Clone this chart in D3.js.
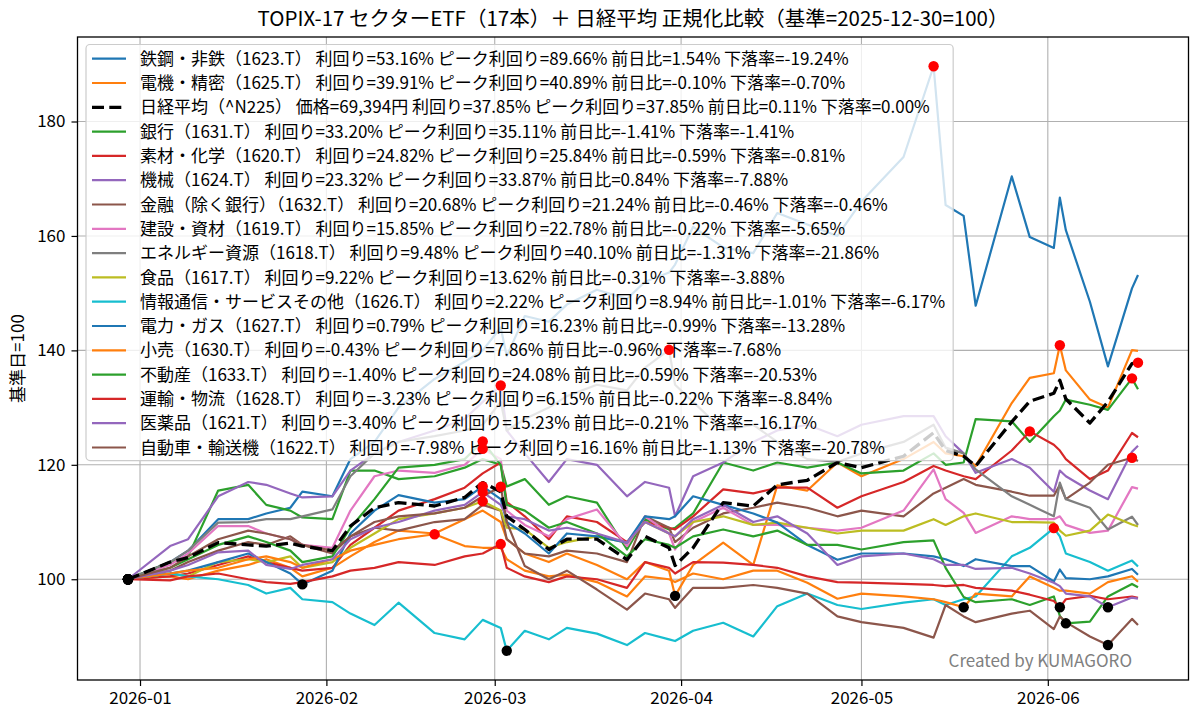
<!DOCTYPE html>
<html>
<head>
<meta charset="utf-8">
<script src="https://cdn.jsdelivr.net/npm/d3@7"></script>
<style>
  body { margin: 0; background: #fff; }
  #chart text { font-family: "Noto Sans CJK JP", "Noto Sans", sans-serif; }
</style>
</head>
<body>
<svg id="chart" width="1200" height="720"></svg>
<script>
// 営業日（抜粋）
const dates = ["2025-12-30","2026-01-06","2026-01-09","2026-01-14","2026-01-19","2026-01-22","2026-01-26","2026-01-28",
  "2026-02-02","2026-02-05","2026-02-09","2026-02-13","2026-02-19","2026-02-24","2026-02-27","2026-03-02","2026-03-03",
  "2026-03-06","2026-03-10","2026-03-13","2026-03-18","2026-03-23","2026-03-26","2026-03-30","2026-03-31","2026-04-03",
  "2026-04-08","2026-04-13","2026-04-17","2026-04-22","2026-04-27","2026-05-01","2026-05-08","2026-05-13","2026-05-15",
  "2026-05-18","2026-05-20","2026-05-26","2026-05-29","2026-06-02","2026-06-03","2026-06-04","2026-06-08","2026-06-11",
  "2026-06-15","2026-06-16"];

// 基準日=100 の値
const steel = [100,103,105,110.5,110.5,111.5,112.5,115.3,114.5,121,124,130,135,138,140,144,139,146,145,148,150.6,149,152,153.6,155,161.6,158,157,164,162,160,166,173.8,189.66,165.4,163.5,147.8,170.4,159.8,157.9,166.7,161,148.5,137.2,150.84,153.16];
const electric = [100,100.5,100,101.5,102.5,103.5,102,100.5,102,104,106.5,108.5,108,110.5,112,110,107,104.5,103,104.5,102.5,100,103,101.5,97.1,102.5,106.4,102.5,116.4,115.5,120.4,118,121,124,122,121.5,119.8,130.8,135.2,136,140.89,136.5,131.4,130,140.05,139.91];
const nikkei = [100,103,103.8,106.4,106,105.8,106.3,105.8,105,109.3,112.5,113.4,112.8,114.3,116.9,115.3,111,108.7,105.2,107,107,103.4,107.5,105.5,102.4,105.5,113.4,112.8,116.5,117.3,120.4,119.5,121.5,125.6,122.5,121.5,119.8,127.5,131.1,132.5,134.8,131.5,127.3,131,137.7,137.85];
const banks = [100,103,104,115.5,116.5,113,112,110.8,110.5,119,119,117.5,118,119.5,121,120,116.2,117.5,113,114.5,113.4,105.2,110.5,108.7,109,111.5,120.4,119,120.4,119.5,120.4,118.5,119,122,120,120.4,128,127.6,124,128.5,129.5,131.4,130.5,129.6,135.11,133.2];
const materials = [100,100.5,101,102.5,104,103,102,101.5,102,106,109,112,114,116,118.5,120.4,113.5,111,107,111,110,106.5,110,109,108.7,111,115.7,115,116,116,112.5,114.5,117,119.8,119,118,117.5,122.5,125.84,123.5,122.5,121,117.5,119,125.56,124.82];
const machinery = [100,105.8,107,114.5,117,116.5,115,114.3,114.5,119,122,124,126,128,131,133.87,126,122,117,121,120,114.5,117,116,111,118,120.4,124,126,127,125,127,128.5,128.5,125,122,118.6,121,119.5,115.3,119,118,115.5,114,122.29,123.32];
const finance = [100,101.5,103,105,106.5,106,107.5,106,104.5,107.5,109,108.5,110,110.5,113,112,107,104.5,104,105,104.5,103,111,109,106.5,109,111.5,112.5,113.4,112.5,111,112,111,115,116,117.5,116.5,115.3,114.6,114.6,116.5,114,116.9,120,121.24,120.68];
const construction = [100,102.5,104.5,109.3,109.3,108,107,106,105.5,112,118,119,118.6,120,122.78,121,112,109.5,107.5,110.5,112.2,105.8,111,108,105.2,110,112.5,109.5,109.5,109,108.5,109,112,119.2,114,111.6,108.1,111,110.5,110.5,111,109.5,108.1,108.5,116.1,115.85];
const energy = [100,103,105,109.9,110,110.5,110.5,111,112.2,118,122,124,125,126,127,131,126,128,130,132,134,133,137,140.1,134,131,126,127,124,121,120.5,122,124,127,123,122,119.2,114.5,113,111,116.9,114,112.5,108.7,110.93,109.48];
const foods = [100,101,100.5,103,103.5,103,104,102,103,105.5,108,110.5,111.5,112.5,113.62,112,109,108.7,105.5,106.5,107.5,106.4,110,108,107.5,110,111,109.5,109.9,109,108,108.5,108.5,110.5,109.5,111,111.5,110,110,109.9,108.5,107.6,108.5,111.3,109.56,109.22];
const infocom = [100,101,100.5,100,99,97.5,98.5,96.5,96,94,92,95.9,90.6,89.5,92.9,91.5,87.5,91,89.5,91.5,90.5,88.5,90.6,89.5,89.2,91,92.4,90,95.3,97.5,95.5,94.8,95.9,96.5,95.5,96.5,97,104,105.5,108.94,107.5,104.5,103,101.5,103.26,102.22];
const utilities = [100,101,101.5,103,104.5,103,101,99.1,101.5,108,112,114.7,113.4,114,116.23,114,110,108,104.5,108,107.5,106.4,111,110.5,111,114.5,113,111.5,109.9,106,103.4,104.5,104.5,104,103.5,102.3,103.5,102.3,102.3,99.6,101.7,100.2,100,100.5,101.8,100.79];
const retail = [100,101,101.5,102,103.5,104,103,102,103.5,105,106,107,107.86,105.8,105.5,105.5,103.5,101.5,100.5,100.8,99.5,97,100.5,100,99.5,101,100,101.5,101.5,99.4,96.6,97.5,97,96.5,96,95.1,97.5,97,100.5,98.5,98,98,97.5,99.5,100.53,99.57];
const realestate = [100,102,103.5,106,107.5,106.5,105,103,104,109,114,119.5,120,121,124.08,120,113,112,109,110,108,104,107,106,105.5,107.5,108.7,107.5,108.5,106,106,105.2,106.5,106.8,102,96.9,96,96.5,95.5,97,93.6,92.3,92.6,97,99.18,98.6];
const transport = [100,99.8,100.5,101,100,99.5,99.2,99.5,100.5,101.5,102,103,102.5,104,104.5,106.15,102,100.5,99.5,100.5,100,98.5,103,102,101,103,102.9,102.5,102,100.5,99.5,99.4,99.2,99,98.8,99,98.5,98,97.3,96.2,95.1,96.5,97.1,96.5,96.98,96.77];
const pharma = [100,101.5,102.5,104.7,105,102.5,101.8,102.5,103.5,107,109,110,112,113,115.23,113,111,110.5,108.5,109,108,106.4,110,108,107.5,110.5,113,110,111,108,102.5,104,104.5,103.5,102.5,102.5,101.8,102,101,99.4,98.8,97.5,97,95.1,96.8,96.6];
const autos = [100,102,104,107,108.5,108,107,106,105,107.5,110,111,111.5,112.5,114.5,116.16,110,102.3,100,101.5,98.2,94.7,97.5,96.5,95,98.5,98.5,99,98.5,97.5,93.5,92.5,91.5,89.8,95.5,93.5,92.5,94,94.5,91.3,93.5,92.5,90,88.5,93.07,92.02];

// 凡例テキスト（凡例の並び順）
const labels = [
  "鉄鋼・非鉄（1623.T） 利回り=53.16% ピーク利回り=89.66% 前日比=1.54% 下落率=-19.24%",
  "電機・精密（1625.T） 利回り=39.91% ピーク利回り=40.89% 前日比=-0.10% 下落率=-0.70%",
  "日経平均（^N225） 価格=69,394円 利回り=37.85% ピーク利回り=37.85% 前日比=0.11% 下落率=0.00%",
  "銀行（1631.T） 利回り=33.20% ピーク利回り=35.11% 前日比=-1.41% 下落率=-1.41%",
  "素材・化学（1620.T） 利回り=24.82% ピーク利回り=25.84% 前日比=-0.59% 下落率=-0.81%",
  "機械（1624.T） 利回り=23.32% ピーク利回り=33.87% 前日比=0.84% 下落率=-7.88%",
  "金融（除く銀行）（1632.T） 利回り=20.68% ピーク利回り=21.24% 前日比=-0.46% 下落率=-0.46%",
  "建設・資材（1619.T） 利回り=15.85% ピーク利回り=22.78% 前日比=-0.22% 下落率=-5.65%",
  "エネルギー資源（1618.T） 利回り=9.48% ピーク利回り=40.10% 前日比=-1.31% 下落率=-21.86%",
  "食品（1617.T） 利回り=9.22% ピーク利回り=13.62% 前日比=-0.31% 下落率=-3.88%",
  "情報通信・サービスその他（1626.T） 利回り=2.22% ピーク利回り=8.94% 前日比=-1.01% 下落率=-6.17%",
  "電力・ガス（1627.T） 利回り=0.79% ピーク利回り=16.23% 前日比=-0.99% 下落率=-13.28%",
  "小売（1630.T） 利回り=-0.43% ピーク利回り=7.86% 前日比=-0.96% 下落率=-7.68%",
  "不動産（1633.T） 利回り=-1.40% ピーク利回り=24.08% 前日比=-0.59% 下落率=-20.53%",
  "運輸・物流（1628.T） 利回り=-3.23% ピーク利回り=6.15% 前日比=-0.22% 下落率=-8.84%",
  "医薬品（1621.T） 利回り=-3.40% ピーク利回り=15.23% 前日比=-0.21% 下落率=-16.17%",
  "自動車・輸送機（1622.T） 利回り=-7.98% ピーク利回り=16.16% 前日比=-1.13% 下落率=-20.78%"
];
const values = [steel, electric, nikkei, banks, materials, machinery, finance, construction, energy,
  foods, infocom, utilities, retail, realestate, transport, pharma, autos];
const colors = ["#1f77b4","#ff7f0e","#000000","#2ca02c","#d62728","#9467bd","#8c564b","#e377c2","#7f7f7f",
  "#bcbd22","#17becf","#1f77b4","#ff7f0e","#2ca02c","#d62728","#9467bd","#8c564b"];
const y_ticks = [100, 120, 140, 160, 180];
const title_text = "TOPIX-17 セクターETF（17本）＋ 日経平均 正規化比較（基準=2025-12-30=100）";
const y_label = "基準日=100";
const credit = "Created by KUMAGORO";

class Chart{
  left = 77.5;
  right = 1188.5;
  top = 37;
  bottom = 680;
  font_size = 17;
  constructor(svg){
    this.svg = svg;
    this.times = dates.map(d3.timeParse("%Y-%m-%d"));
    this.series = labels.map((label, i) => ({label: label, values: values[i], color: colors[i], dashed: i == 2}));
    this.#scales();
    this.#draw_grid();
    this.#draw_lines();
    this.#draw_axes();
    this.#draw_legend();
    this.#draw_markers();
    this.#draw_texts();
  }
  #scales = () => {
    // matplotlib と同じく上下左右 5% の余白
    const t0 = this.times[0], t1 = this.times[this.times.length-1];
    const t_pad = (t1 - t0) * 0.05;
    this.x = d3.scaleTime()
      .domain([new Date(+t0 - t_pad), new Date(+t1 + t_pad)])
      .range([this.left, this.right]);
    const [lo, hi] = d3.extent(values.flat());
    const y_pad = (hi - lo) * 0.05;
    this.y = d3.scaleLinear()
      .domain([lo - y_pad, hi + y_pad])
      .range([this.bottom, this.top]);
    this.months = d3.timeMonth.range(new Date(2026, 0, 1), new Date(2026, 6, 1));
  }
  #draw_grid = () => {
    const g = this.svg.append("g").attr("stroke", "#b0b0b0").attr("stroke-width", 1.1);
    g.selectAll(".vgrid").data(this.months).join("line")
      .attr("x1", d => this.x(d)).attr("x2", d => this.x(d))
      .attr("y1", this.top).attr("y2", this.bottom);
    g.selectAll(".hgrid").data(y_ticks).join("line")
      .attr("x1", this.left).attr("x2", this.right)
      .attr("y1", d => this.y(d)).attr("y2", d => this.y(d));
  }
  #draw_lines = () => {
    const line = d3.line()
      .x((d, i) => this.x(this.times[i]))
      .y(d => this.y(d));
    // 日経平均は最後に描いて前面へ
    const order = this.series.filter(s => !s.dashed).concat(this.series.filter(s => s.dashed));
    this.svg.append("g")
      .selectAll("path")
      .data(order)
      .join("path")
        .attr("d", s => line(s.values))
        .attr("fill", "none")
        .attr("stroke", s => s.color)
        .attr("stroke-width", s => s.dashed ? 3.3 : 2.2)
        .attr("stroke-dasharray", s => s.dashed ? "12,5.3" : null)
        .attr("stroke-linejoin", "round");
  }
  #draw_axes = () => {
    const style = g => {
      g.select(".domain").remove();
      g.attr("font-family", null).attr("font-size", this.font_size);
      g.selectAll("line").attr("stroke", "#000").attr("stroke-width", 1.2);
      g.selectAll("text").attr("fill", "#000");
    };
    this.svg.append("g")
      .attr("transform", "translate(0," + this.bottom + ")")
      .call(d3.axisBottom(this.x).tickValues(this.months).tickFormat(d3.timeFormat("%Y-%m")).tickSize(6).tickPadding(6))
      .call(style);
    this.svg.append("g")
      .attr("transform", "translate(" + this.left + ",0)")
      .call(d3.axisLeft(this.y).tickValues(y_ticks).tickSize(6).tickPadding(6))
      .call(style);
    this.svg.append("rect")
      .attr("x", this.left).attr("y", this.top)
      .attr("width", this.right - this.left).attr("height", this.bottom - this.top)
      .attr("fill", "none").attr("stroke", "#000").attr("stroke-width", 1.3);
  }
  #draw_legend = () => {
    const row = 24.3, x0 = 86, y0 = 44.5;
    const g = this.svg.append("g");
    const box = g.append("rect");
    const items = g.selectAll(".item")
      .data(this.series)
      .join("g")
        .attr("transform", (d, i) => "translate(0," + (y0 + 14.2 + i * row) + ")");
    items.append("line")
      .attr("x1", x0 + 6).attr("x2", x0 + 40)
      .attr("stroke", d => d.color)
      .attr("stroke-width", d => d.dashed ? 3.3 : 2.2)
      .attr("stroke-dasharray", d => d.dashed ? "12,5.3" : null);
    const texts = items.append("text")
      .attr("x", x0 + 54)
      .attr("dy", "0.36em")
      .attr("font-size", 17)
      .attr("fill", "#000")
      .text(d => d.label);
    const widest = d3.max(texts.nodes(), n => n.getComputedTextLength());
    box.attr("x", x0).attr("y", y0)
      .attr("width", 54 + widest + 8)
      .attr("height", this.series.length * row + 3)
      .attr("rx", 4)
      .attr("fill", "#fff").attr("fill-opacity", 0.8)
      .attr("stroke", "#cccccc").attr("stroke-width", 1.2);
  }
  #draw_markers = () => {
    // ピーク（赤）と最安値（黒）
    const marks = [];
    this.series.forEach(s => {
      const hi = d3.maxIndex(s.values), lo = d3.minIndex(s.values);
      marks.push({t: this.times[hi], v: s.values[hi], c: "red"});
      marks.push({t: this.times[lo], v: s.values[lo], c: "black"});
    });
    this.svg.append("g")
      .selectAll("circle")
      .data(marks)
      .join("circle")
        .attr("cx", d => this.x(d.t))
        .attr("cy", d => this.y(d.v))
        .attr("r", 5.2)
        .attr("fill", d => d.c);
  }
  #draw_texts = () => {
    this.svg.append("text")
      .attr("x", (this.left + this.right) / 2)
      .attr("y", 26)
      .attr("text-anchor", "middle")
      .attr("font-size", 20.5)
      .text(title_text);
    this.svg.append("text")
      .attr("transform", "translate(24," + (this.top + this.bottom) / 2 + ") rotate(-90)")
      .attr("text-anchor", "middle")
      .attr("font-size", this.font_size)
      .text(y_label);
    this.svg.append("text")
      .attr("x", 1132)
      .attr("y", 667)
      .attr("text-anchor", "end")
      .attr("font-size", 17)
      .attr("fill", "#808080")
      .text(credit);
  }
}

new Chart(d3.select("#chart"));
</script>
</body>
</html>
